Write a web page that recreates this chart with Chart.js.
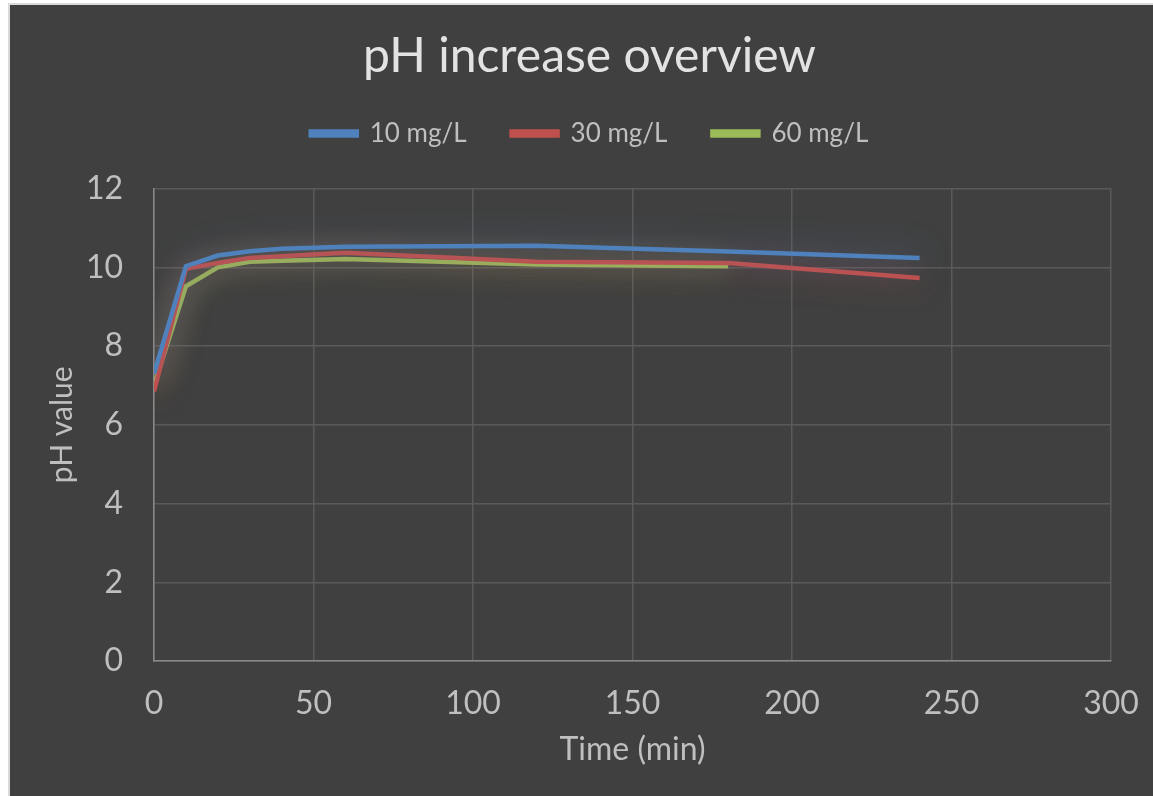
<!DOCTYPE html>
<html>
<head>
<meta charset="utf-8">
<script src="https://cdn.jsdelivr.net/npm/chart.js@4.4.1/dist/chart.umd.min.js"></script>
<style>
    html, body { margin: 0; padding: 0; background: #ffffff; overflow: hidden; }
    #frame {
        position: absolute; left: 8px; top: 3px;
        width: 1145px; height: 793px;
        border-left: 2px solid #d9d9d9; border-top: 2px solid #d9d9d9;
        background: #404040;
    }
    #wrap { position: absolute; left: 0; top: 0; width: 1143px; height: 791px; }
</style>
</head>
<body>
<div id="frame"><div id="wrap"><canvas id="phChart"></canvas></div></div>
<script>
// pH readings over time (min)
const timeMin = [0, 10, 20, 30, 40, 60, 120, 180, 240];
const ph10 = [7.30, 10.03, 10.30, 10.41, 10.47, 10.52, 10.55, 10.40, 10.24];
const ph30 = [6.85, 9.96, 10.11, 10.24, 10.28, 10.37, 10.14, 10.11, 9.73];
const ph60 = [7.00, 9.52, 10.00, 10.14, 10.17, 10.21, 10.07, 10.03];
const seriesNames = ['10 mg/L', '30 mg/L', '60 mg/L'];
const seriesColors = ['#4f81bd', '#c0504d', '#9bbb59'];
const glowColors = ['rgba(79,129,189,0.8)', 'rgba(192,80,77,0.8)', 'rgba(155,187,89,0.8)'];

const FONT = 'Lato, "Noto Sans", sans-serif';
const TEXT = '#bfbfbf';

const toPoints = (ys) => ys.map((y, i) => ({ x: timeMin[i], y: y }));

// soft glow under each line
const glowPlugin = {
    id: 'glow',
    beforeDatasetDraw(chart, args) {
        const ctx = chart.ctx;
        ctx.save();
        ctx.shadowColor = glowColors[args.index];
        ctx.shadowBlur = 30;
    },
    afterDatasetDraw(chart) {
        chart.ctx.restore();
    }
};

const datasets = [ph10, ph30, ph60].map((ys, i) => ({
    label: seriesNames[i],
    data: toPoints(ys),
    borderColor: seriesColors[i],
    backgroundColor: seriesColors[i],
    borderWidth: 4.5,
    pointRadius: 0,
    tension: 0,
    fill: false
}));

new Chart(document.getElementById('phChart'), {
    type: 'line',
    data: { datasets },
    plugins: [glowPlugin],
    options: {
        responsive: true,
        maintainAspectRatio: false,
        animation: false,
        layout: { padding: { left: 58, right: 42, top: 0, bottom: 0 } },
        plugins: {
            title: {
                display: true,
                text: 'pH increase overview',
                color: '#e3e3e3',
                font: { family: FONT, size: 48, weight: 'normal' },
                padding: { top: 23, bottom: -10 }
            },
            // empty spacer under the legend
            subtitle: {
                display: true,
                text: '',
                weight: 500,
                font: { family: FONT, size: 10, lineHeight: 1 },
                padding: { top: 0, bottom: 22 }
            },
            legend: {
                position: 'top',
                labels: {
                    color: TEXT,
                    font: { family: FONT, size: 26 },
                    boxWidth: 46,
                    boxHeight: 4,
                    padding: 45
                }
            },
            tooltip: { enabled: false }
        },
        scales: {
            x: {
                type: 'linear',
                min: 0,
                max: 300,
                ticks: { stepSize: 50, color: TEXT, font: { family: FONT, size: 32 }, padding: 23 },
                grid: { color: '#5a5a5a', lineWidth: 1.5, drawTicks: false },
                border: { color: '#8a8a8a', width: 1.5 },
                title: {
                    display: true, text: 'Time (min)', color: TEXT,
                    font: { family: FONT, size: 32 }, padding: { top: 0, bottom: 27 }
                },
                afterFit: (s) => { s.height = 135; s.paddingLeft = 0; s.paddingRight = 0; }
            },
            y: {
                min: 0,
                max: 12,
                ticks: { stepSize: 2, color: TEXT, font: { family: FONT, size: 32 }, padding: 31 },
                grid: { color: '#5a5a5a', lineWidth: 1.5, drawTicks: false },
                border: { color: '#8a8a8a', width: 1.5 },
                title: {
                    display: true, text: 'pH value', color: TEXT,
                    font: { family: FONT, size: 30 }, padding: { top: -24, bottom: 0 }
                },
                afterFit: (s) => { s.width = 86; }
            }
        }
    }
});
</script>
</body>
</html>
